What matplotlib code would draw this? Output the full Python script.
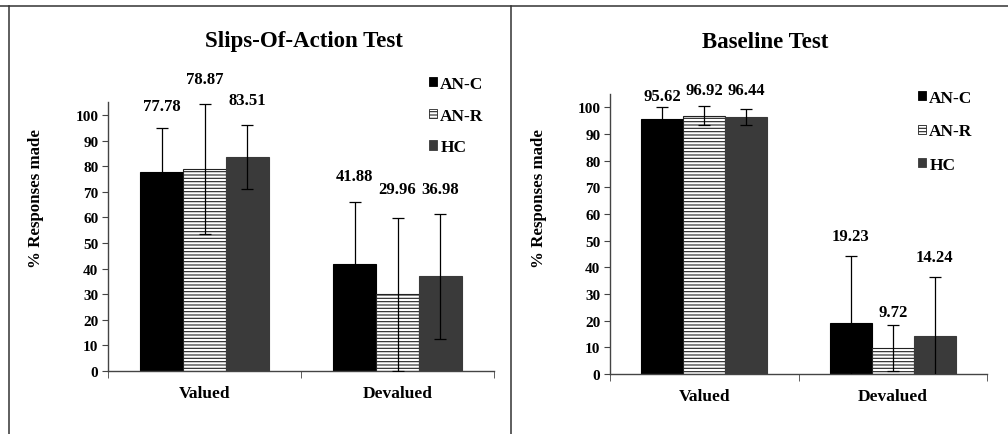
import matplotlib
matplotlib.use("Agg")
import matplotlib.pyplot as plt
import numpy as np
from matplotlib.patches import Patch
from matplotlib.lines import Line2D

plt.rcParams['font.family'] = ['Liberation Serif', 'DejaVu Serif']
plt.rcParams['font.weight'] = 'bold'
plt.rcParams['hatch.linewidth'] = 0.8

categories = ["Valued", "Devalued"]
groups = ["AN-C", "AN-R", "HC"]

# Slips-of-action test
slips_anc = [77.78, 41.88]
slips_anr = [78.87, 29.96]
slips_hc = [83.51, 36.98]
slips_err_anc = [17.2, 24.1]
slips_err_anr = [25.5, 30.0]
slips_err_hc = [12.5, 24.3]
slips_label_y_anc = [103.5, 76.0]
slips_label_y_anr = [114.0, 71.0]
slips_label_y_hc = [106.0, 71.0]

# Baseline test
base_anc = [95.62, 19.23]
base_anr = [96.92, 9.72]
base_hc = [96.44, 14.24]
base_err_anc = [4.6, 25.1]
base_err_anr = [3.6, 8.6]
base_err_hc = [2.9, 22.2]
base_label_y_anc = [104.4, 51.7]
base_label_y_anr = [106.6, 23.2]
base_label_y_hc = [106.6, 43.8]

W, H = 1008, 435
fig = plt.figure(figsize=(W / 100, H / 100), dpi=100)

styles = [
    dict(color="#000000", edgecolor="#000000", hatch=None),
    dict(color="#ffffff", edgecolor="#222222", hatch="-----"),
    dict(color="#3a3a3a", edgecolor="#3a3a3a", hatch=None),
]


def panel(rect, title, title_xy, ylab_xy, vals, errs, label_ys, legend_anchor, legend_spacing):
    ax = fig.add_axes(rect)
    x = np.arange(len(categories))
    bw = 2 / 9
    for i, (v, e, ly, st) in enumerate(zip(vals, errs, label_ys, styles)):
        xp = x + (i - 1) * bw
        ax.bar(xp, v, width=bw, color=st["color"], edgecolor=st["edgecolor"],
               hatch=st["hatch"], linewidth=0.8, zorder=2, label=groups[i])
        ax.errorbar(xp, v, yerr=e, fmt="none", ecolor="black", elinewidth=0.9,
                    capsize=4, capthick=0.9, zorder=3)
        for xx, vv, yy in zip(xp, v, ly):
            ax.text(xx, yy, f"{vv:.2f}", ha="center", va="center", fontsize=12,
                    fontweight="bold", clip_on=False)
    ax.set_xlim(-0.5, 1.5)
    ax.set_ylim(0, 105)
    ax.set_yticks(np.arange(0, 101, 10))
    ax.set_xticks(x)
    ax.set_xticklabels(categories, fontsize=12.5, fontweight="bold")
    ax.set_xticks([-0.5, 0.5, 1.5], minor=True)
    ax.tick_params(axis="x", which="major", length=0, pad=10)
    ax.tick_params(axis="x", which="minor", length=5, direction="out", color="#444444")
    ax.tick_params(axis="y", length=4, direction="out", color="#444444", labelsize=11, pad=3)
    for lab in ax.get_yticklabels():
        lab.set_fontweight("bold")
    for s in ["top", "right"]:
        ax.spines[s].set_visible(False)
    for s in ["left", "bottom"]:
        ax.spines[s].set_color("#444444")
        ax.spines[s].set_linewidth(1.0)
    fig.text(title_xy[0] / W, 1 - title_xy[1] / H, title, ha="center", va="center",
             fontsize=16.5, fontweight="bold")
    fig.text(ylab_xy[0] / W, 1 - ylab_xy[1] / H, "% Responses made", ha="center", va="center",
             rotation=90, fontsize=12.2, fontweight="bold")
    handles = [Patch(facecolor=st["color"], edgecolor=st["edgecolor"], hatch=st["hatch"], linewidth=0.6)
               for st in styles]
    fig.legend(handles, groups, loc="upper left",
               bbox_to_anchor=(legend_anchor[0] / W, 1 - legend_anchor[1] / H),
               frameon=False, handlelength=0.45, handleheight=0.45, handletextpad=0.2,
               labelspacing=legend_spacing, borderpad=0, borderaxespad=0,
               prop=dict(family="Liberation Serif", weight="bold", size=12.5))


panel([108 / W, 63 / H, 386 / W, 268.8 / H], "Slips-Of-Action Test", (304, 42), (36, 199),
      [slips_anc, slips_anr, slips_hc], [slips_err_anc, slips_err_anr, slips_err_hc],
      [slips_label_y_anc, slips_label_y_anr, slips_label_y_hc], (429, 77), 0.9)

panel([610 / W, 60 / H, 377 / W, 280 / H], "Baseline Test", (765, 42), (539, 199),
      [base_anc, base_anr, base_hc], [base_err_anc, base_err_anr, base_err_hc],
      [base_label_y_anc, base_label_y_anr, base_label_y_hc], (918, 91), 1.0)

# panel borders
for (xs, ys) in [((0, 1), (1 - 7 / H, 1 - 7 / H)),
                 ((9 / W, 9 / W), (0, 1 - 7 / H)),
                 ((511 / W, 511 / W), (0, 1 - 7 / H))]:
    fig.add_artist(Line2D(xs, ys, transform=fig.transFigure, color="#333333", linewidth=1.1))

fig.savefig("out.png", dpi=100)
